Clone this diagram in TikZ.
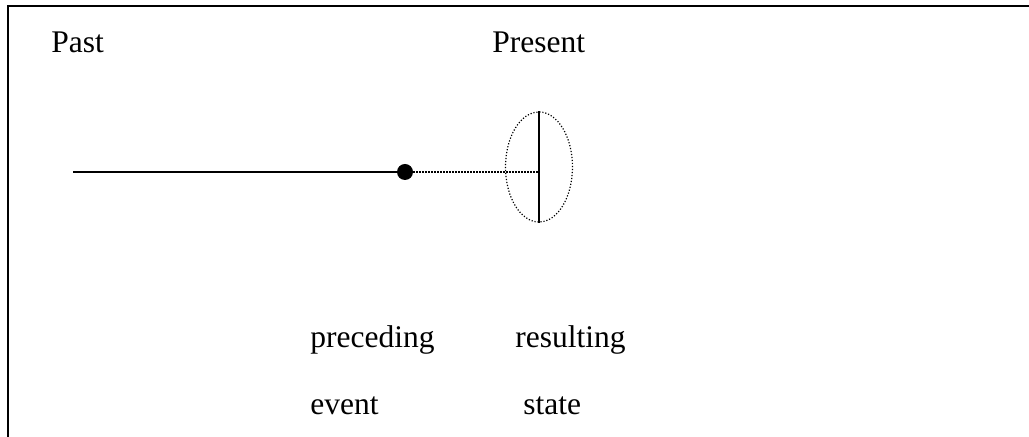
\documentclass[tikz,border=0pt]{standalone}
\usepackage{fontspec}
\setmainfont{Liberation Serif}
\usetikzlibrary{shapes.geometric}

\begin{document}
\begin{tikzpicture}[x=0.5pt,y=-0.5pt,
        word/.style={anchor=base west,inner sep=0pt,
          font=\fontsize{15.75}{19}\selectfont},
        timeline/.style={line width=1pt},
        dots/.style={line width=0.6pt,dash pattern=on 0.6pt off 0.9pt}
      ]
        \useasboundingbox (0,0) rectangle (1029,437);
        \draw[line width=1pt] (8,437) |- (1029,6.5);
        \node[word] (past) at (51,53) {Past};
        \node[word] (present) at (492,53) {Present};
        \node[word] (preceding) at (310,348) {preceding};
        \node[word] (resulting) at (515,348) {resulting};
        \node[word] (event) at (310,415) {event};
        \node[word] (state) at (523,415) {state};
        \coordinate (start) at (73,172);
        \node[circle,fill,inner sep=0pt,minimum size=8pt] (point) at (405,172) {};
        \node[ellipse,draw,dots,inner sep=0pt,minimum width=33.5pt,
          minimum height=55pt] (now) at (539,167) {};
        \draw[timeline] (start) -- (point);
        \draw[dots] (point) -- (point -| now.north);
        \draw[timeline] (now.north) -- (now.south);
      \end{tikzpicture}
\end{document}
